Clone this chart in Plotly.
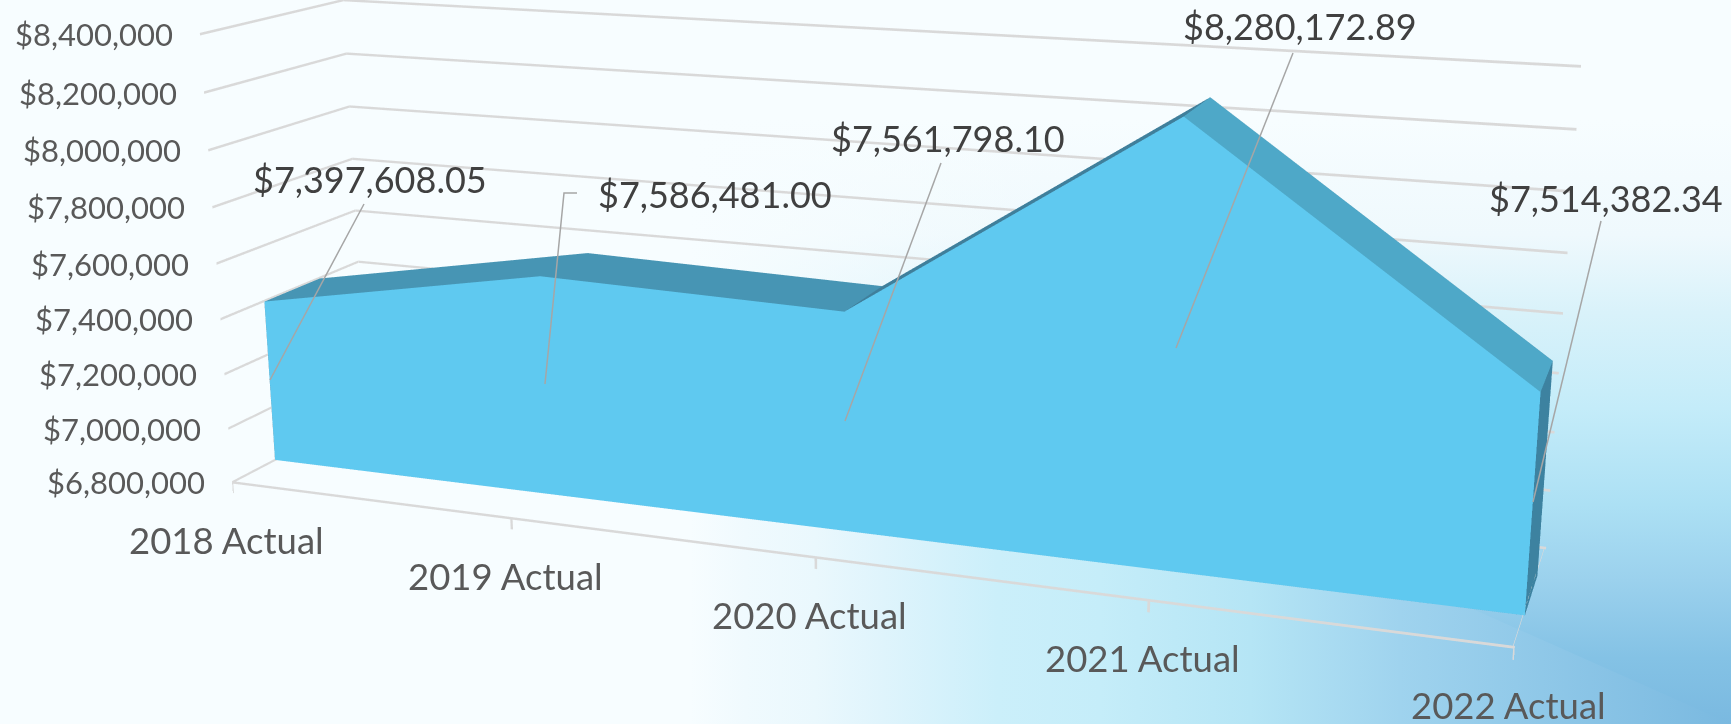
import base64
import plotly.graph_objects as go

W, H = 1731, 724

categories = ["2018 Actual", "2019 Actual", "2020 Actual", "2021 Actual", "2022 Actual"]
values = [7397608.05, 7586481.00, 7561798.10, 8280172.89, 7514382.34]
value_labels = ["$7,397,608.05", "$7,586,481.00", "$7,561,798.10", "$8,280,172.89", "$7,514,382.34"]
z_ticks = [6800000, 7000000, 7200000, 7400000, 7600000, 7800000, 8000000, 8200000, 8400000]
z_labels = ["$6,800,000", "$7,000,000", "$7,200,000", "$7,400,000", "$7,600,000",
            "$7,800,000", "$8,000,000", "$8,200,000", "$8,400,000"]
label_centers = [(370, 179), (715, 194), (948, 138), (1300, 26), (1606, 198)]
leaders = [[(270, 380), (364, 204)],
           [(545, 384), (564, 193), (577, 193)],
           [(845, 421), (941, 163)],
           [(1176, 348), (1293, 53)],
           [(1533, 502), (1601, 221)]]

# plotly's camera has a fixed 45 degree lens, the reference was shot with a long one,
# so the scene is drawn much taller than the window and the page is cropped back to it
FIG_W, FIG_H, TOP = 1781, 2075, 716
Z_RANGE = [6750000, 8410000]


def px(x):
    return x / FIG_W


def py(y):
    return 1 - (y + TOP) / FIG_H


depth = (0.3, 0.7)
base = z_ticks[0]
xs, ys, zs = [], [], []
for i, v in enumerate(values):
    for d in depth:
        xs += [i, i]
        ys += [d, d]
        zs += [base, v]
# vertex index: i*4 + (0 front base, 1 front top, 2 back base, 3 back top)
tri_i, tri_j, tri_k, face = [], [], [], []


def quad(a, b, c, d, col):
    tri_i.extend([a, a])
    tri_j.extend([b, c])
    tri_k.extend([c, d])
    face.extend([col, col])


top_colors = ["#4795B4", "#4795B4", "#3F7F9B", "#4EA8C8"]
for s in range(4):
    n = s * 4
    quad(n + 1, n + 5, n + 7, n + 3, top_colors[s])
    quad(n, n + 4, n + 5, n + 1, "#5FC9F0")
    quad(n + 2, n + 6, n + 7, n + 3, "#3D82A0")
    quad(n, n + 4, n + 6, n + 2, "#3D82A0")
quad(16, 18, 19, 17, "#3D82A0")
quad(0, 2, 3, 1, "#3D82A0")

flat = dict(ambient=1, diffuse=0, specular=0, fresnel=0, roughness=1)
fig = go.Figure()
fig.add_trace(go.Mesh3d(x=xs, y=ys, z=zs, i=tri_i, j=tri_j, k=tri_k, facecolor=face,
                        flatshading=True, hoverinfo="skip", lighting=flat))

# webgl lines stay 1px wide, so grid lines and floor edges are thin ribbons
half = 4500
gx, gy, gz, gi, gj, gk = [], [], [], [], [], []


def ribbon(x0, y0, x1, y1, z):
    n = len(gx)
    gx.extend([x0, x1, x1, x0])
    gy.extend([y0, y1, y1, y0])
    gz.extend([z - half, z - half, z + half, z + half])
    gi.extend([n, n])
    gj.extend([n + 1, n + 2])
    gk.extend([n + 2, n + 3])


for t in z_ticks:
    ribbon(0, 0, 0, 1, t)
    ribbon(0, 1, 4, 1, t)
ribbon(0, 0, 4, 0, base)
# a ribbon lying exactly on the x=4 bound gets clipped away
ribbon(3.995, 0, 3.995, 1, base)
for i in range(len(categories)):
    n = len(gx)
    gx.extend([i - .004, i + .004, i + .004, i - .004])
    gy.extend([0, 0, 0, 0])
    gz.extend([base - 40000, base - 40000, base, base])
    gi.extend([n, n])
    gj.extend([n + 1, n + 2])
    gk.extend([n + 2, n + 3])
fig.add_trace(go.Mesh3d(x=gx, y=gy, z=gz, i=gi, j=gj, k=gk, color="#D9D9D9",
                        flatshading=True, hoverinfo="skip", lighting=flat))

annotations = []
for t, lab in zip(z_ticks, z_labels):
    annotations.append(dict(x=0, y=0, z=t, text=lab, showarrow=False, xanchor="right", xshift=-25,
                            font=dict(family="Lato", size=31, color="#595959")))
for i, lab in enumerate(categories):
    annotations.append(dict(x=i, y=0, z=base, text=lab, showarrow=False, xshift=-6, yshift=-58,
                            font=dict(family="Lato", size=36.5, color="#595959")))

hidden = dict(showticklabels=False, title="", showgrid=False, showbackground=False,
              zeroline=False, showspikes=False, ticks="", showline=False)
fig.update_layout(
    width=FIG_W, height=FIG_H, margin=dict(l=0, r=0, t=0, b=0), showlegend=False,
    paper_bgcolor="#F7FDFF",
    scene=dict(
        domain=dict(x=[0, 1], y=[0, 1]),
        bgcolor="rgba(0,0,0,0)",
        aspectmode="manual",
        aspectratio=dict(x=2.88120, y=0.58258, z=1.07232),
        camera=dict(eye=dict(x=1.84102, y=-4.90567, z=1.34872),
                    center=dict(x=0.06082, y=0.00259, z=-0.05797),
                    up=dict(x=0, y=0, z=1),
                    projection=dict(type="perspective")),
        annotations=annotations,
        xaxis=dict(range=[0, 4], **hidden),
        yaxis=dict(range=[0, 1], **hidden),
        zaxis=dict(range=Z_RANGE, **hidden),
    ),
)

# office style rectangular gradient growing out of the bottom right corner
across_stops = [(0, "#F7FDFF"), (.053, "#F0FAFE"), (.12, "#EAF8FD"), (.185, "#DFF4FC"), (.296, "#CBEFFA"),
                (.394, "#C5EDF9"), (.538, "#B5E5F5"), (.682, "#9FD3EE"), (1, "#7AB9E0")]
down_stops = [(0, "#F7FDFF"), (.19, "#EFF9FD"), (.318, "#D9F2FA"), (.477, "#C4ECF9"),
              (.637, "#ACE0F4"), (.763, "#9BD1ED"), (.891, "#84C2E5"), (1, "#7AB9E0")]
GX0, GY0 = 690, 120
SEAM_Y = 260  # the seam runs from here to the corner, behind the area
FADE_X = 1050


def stop_tags(stops):
    return "".join(f'<stop offset="{o}" stop-color="{c}"/>' for o, c in stops)


upper = f"{W},{H} {GX0},{SEAM_Y} {GX0},0 {W},0"
svg = f'''<svg xmlns="http://www.w3.org/2000/svg" width="{W}" height="{H}">
<defs><linearGradient id="a" gradientUnits="userSpaceOnUse" x1="{GX0}" y1="0" x2="{W}" y2="0">{stop_tags(across_stops)}</linearGradient>
<linearGradient id="b" gradientUnits="userSpaceOnUse" x1="0" y1="{GY0}" x2="0" y2="{H}">{stop_tags(down_stops)}</linearGradient>
<linearGradient id="c" gradientUnits="userSpaceOnUse" x1="{GX0}" y1="0" x2="{FADE_X}" y2="0">
<stop offset="0" stop-color="#F7FDFF" stop-opacity="1"/><stop offset="1" stop-color="#F7FDFF" stop-opacity="0"/></linearGradient></defs>
<rect width="{W}" height="{H}" fill="url(#a)"/><polygon points="{upper}" fill="url(#b)"/><polygon points="{upper}" fill="url(#c)"/></svg>'''
fig.add_layout_image(source="data:image/svg+xml;base64," + base64.b64encode(svg.encode()).decode(),
                     xref="paper", yref="paper", x=0, y=py(0), sizex=W / FIG_W, sizey=H / FIG_H, sizing="stretch",
                     xanchor="left", yanchor="top", layer="below")

for text, (cx, cy) in zip(value_labels, label_centers):
    fig.add_annotation(text=text, xref="paper", yref="paper", x=px(cx), y=py(cy), showarrow=False,
                       xanchor="center", yanchor="middle",
                       font=dict(family="Lato", size=36, color="#404040"))
for pts in leaders:
    path = "M " + " L ".join(f"{px(x)} {py(y)}" for x, y in pts)
    fig.add_shape(type="path", path=path, xref="paper", yref="paper", line=dict(color="#A6A6A6", width=1.5))

crop = f"""
document.documentElement.style.overflow = 'hidden';
document.body.style.margin = '0';
document.body.style.overflow = 'hidden';
document.body.style.height = '{H}px';
document.getElementById('{{plot_id}}').style.marginTop = '-{TOP}px';
"""
fig.write_html("out.html", post_script=crop)
